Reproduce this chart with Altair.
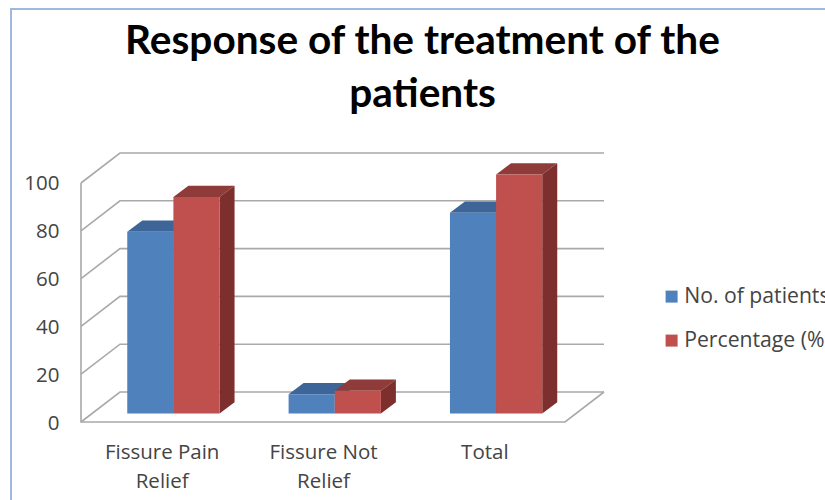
import json
import altair as alt
import pandas as pd

categories = ["Fissure Pain Relief", "Fissure Not Relief", "Total"]
category_lines = [["Fissure Pain", "Relief"], ["Fissure Not", "Relief"], ["Total"]]
series_names = ["No. of patients", "Percentage (%)"]
patients = [76, 8, 84]
percentage = [90.5, 9.5, 100]
ticks = [0, 20, 40, 60, 80, 100]

front_colors = ["#4f81bd", "#c0504d"]
top_colors = ["#3d6597", "#8e3b39"]
side_colors = ["#3a5f8d", "#7c2f2d"]
grid_color = "#a9a9a9"
border_color = "#9db9df"
text_color = "#444444"
font = "Open Sans"

# Oblique projection: how far the floor and each bar recede, in axis units.
wall_dx, wall_dy = 0.2415, 12.55
bar_dx, bar_dy = 0.093, 4.7
base_dx, base_dy = 0.0743, 3.6
gap, bar_w = 0.2124, 0.286

# Back wall, side wall and floor outline
wall_rows = []
for v in ticks:
    pts = [(0, v), (wall_dx, v + wall_dy), (3 + wall_dx, v + wall_dy)]
    for k, (x, y) in enumerate(pts):
        wall_rows.append(dict(line=f"g{v}", k=k, x=x, y=y))
outline = [(0, 100), (0, 0), (3, 0), (3 + wall_dx, wall_dy)]
for k, (x, y) in enumerate(outline):
    wall_rows.append(dict(line="floor", k=k, x=x, y=y))

# Faces of each bar
front_rows, top_rows, side_rows = [], [], []
for s, (name, values) in enumerate(zip(series_names, [patients, percentage])):
    for c, v in enumerate(values):
        xl = c + base_dx + gap + s * bar_w
        xr = xl + bar_w
        top = v + base_dy
        front_rows.append(dict(series=name, xl=xl, xr=xr, y0=base_dy, y1=top))
        top_rows.append(dict(s=s, face=c, y=top, xa=xl, xb=xr))
        top_rows.append(dict(s=s, face=c, y=top + bar_dy, xa=xl + bar_dx, xb=xr + bar_dx))
        side_rows.append(dict(s=s, face=c, x=xr, ya=base_dy, yb=top))
        side_rows.append(dict(s=s, face=c, x=xr + bar_dx, ya=base_dy + bar_dy, yb=top + bar_dy))

x_scale = alt.Scale(domain=[0, 3 + wall_dx], nice=False, zero=False)
y_scale = alt.Scale(domain=[0, 100 + wall_dy], nice=False)

label_lookup = json.dumps({str(i + 0.5): lines for i, lines in enumerate(category_lines)})
x_axis = alt.Axis(
    values=[0.5, 1.5, 2.5],
    labelExpr=f"{label_lookup}[datum.value]",
    title=None, domain=False, ticks=False, grid=False,
    labelFont=font, labelFontSize=20.5, labelColor=text_color,
    labelPadding=20, labelLineHeight=29, labelAngle=0,
)
y_axis = alt.Axis(
    values=ticks, title=None, domain=False, ticks=False, grid=False,
    labelFont=font, labelFontSize=20.5, labelColor=text_color,
    labelPadding=22, labelOffset=1,
)

walls = alt.Chart(pd.DataFrame(wall_rows)).mark_line(color=grid_color, strokeWidth=1.6).encode(
    x=alt.X("x:Q", scale=x_scale, axis=x_axis),
    y=alt.Y("y:Q", scale=y_scale, axis=y_axis),
    detail="line:N",
    order="k:Q",
)

layers = [walls]
top_df = pd.DataFrame(top_rows)
side_df = pd.DataFrame(side_rows)
for s in range(2):
    layers.append(
        alt.Chart(top_df[top_df.s == s]).mark_area(orient="horizontal", color=top_colors[s]).encode(
            y=alt.Y("y:Q", scale=y_scale),
            x=alt.X("xa:Q", scale=x_scale),
            x2="xb:Q",
            detail="face:N",
        )
    )
    layers.append(
        alt.Chart(side_df[side_df.s == s]).mark_area(orient="vertical", color=side_colors[s]).encode(
            x=alt.X("x:Q", scale=x_scale),
            y=alt.Y("ya:Q", scale=y_scale),
            y2="yb:Q",
            detail="face:N",
        )
    )

fronts = alt.Chart(pd.DataFrame(front_rows)).mark_rect().encode(
    x=alt.X("xl:Q", scale=x_scale),
    x2="xr:Q",
    y=alt.Y("y0:Q", scale=y_scale),
    y2="y1:Q",
    color=alt.Color(
        "series:N",
        scale=alt.Scale(domain=series_names, range=front_colors),
        legend=alt.Legend(
            title=None, orient="none", legendX=580, legendY=133,
            symbolType="square", symbolSize=144, symbolStrokeWidth=0,
            labelFont=font, labelFontSize=21.2, labelColor=text_color,
            rowPadding=22, labelOffset=2, labelLimit=300,
        ),
    ),
)
layers.append(fronts)

# Chart-area frame along the top and left edges
frame_top = alt.Chart().mark_rule(color=border_color, strokeWidth=2).encode(
    x=alt.value(-71), x2=alt.value(744), y=alt.value(-144)
)
frame_left = alt.Chart().mark_rule(color=border_color, strokeWidth=2).encode(
    x=alt.value(-70), y=alt.value(-144), y2=alt.value(347)
)
layers += [frame_top, frame_left]

chart = alt.layer(*layers).properties(
    width=523,
    height=269,
    padding={"left": 81, "top": 153, "right": 221, "bottom": 78},
    autosize=alt.AutoSizeParams(type="none"),
    background="white",
    title=alt.TitleParams(
        text=["Response of the treatment of the", "patients"],
        font="Lato", fontSize=40.6, fontWeight="bold", color="#000000",
        anchor="middle", dx=80, dy=108, lineHeight=53, offset=0,
    ),
).configure_view(stroke=None)

chart.save("out.html", embed_options={"renderer": "svg", "actions": False})
